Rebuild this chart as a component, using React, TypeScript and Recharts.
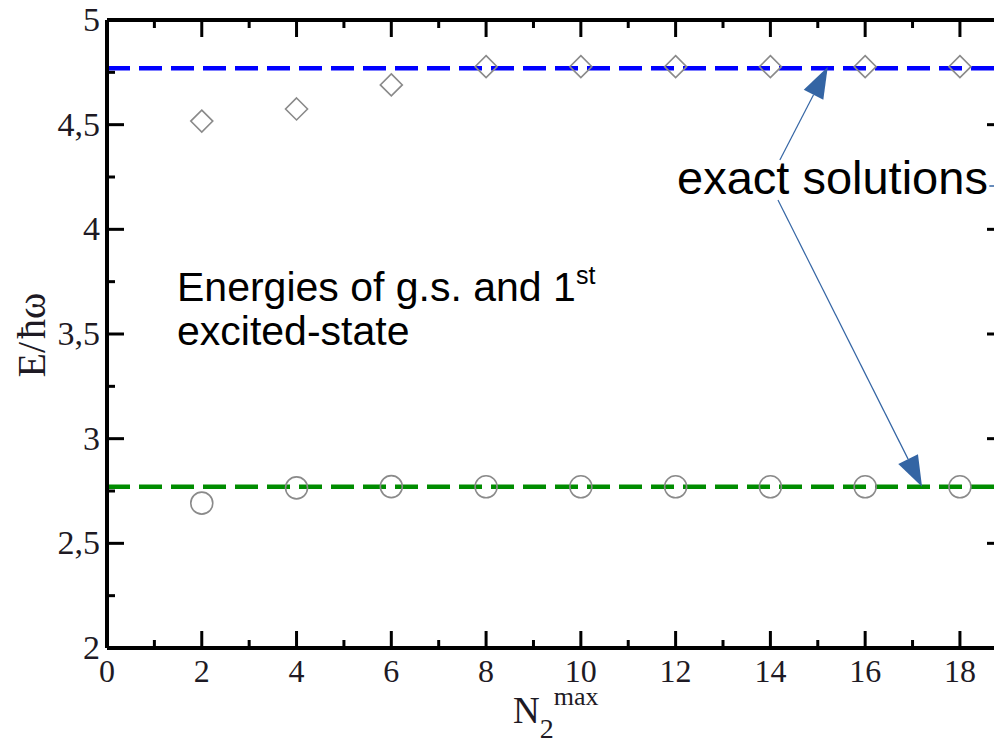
import React from "react";
import { ComposedChart, Scatter, XAxis, YAxis, ReferenceLine } from "recharts";

// N2^max values where both energies were computed
const nMax = [2, 4, 6, 8, 10, 12, 14, 16, 18];
// first excited state (diamonds) and ground state (circles), E / hbar omega
const excitedState = [4.517, 4.575, 4.69, 4.777, 4.777, 4.777, 4.777, 4.777, 4.777];
const groundState = [2.692, 2.765, 2.771, 2.77, 2.77, 2.77, 2.77, 2.77, 2.77];
// exact solutions (dashed lines)
const exactExcited = 4.769;
const exactGround = 2.77;

const xTicks = [0, 1, 2, 3, 4, 5, 6, 7, 8, 9, 10, 11, 12, 13, 14, 15, 16, 17, 18];
const yTicks = [2, 2.25, 2.5, 2.75, 3, 3.25, 3.5, 3.75, 4, 4.25, 4.5, 4.75, 5];
const xDomain = [0, 18.93];
const yDomain = [2, 5];

// annotation arrows, in data coordinates
const arrowToExcited = [{ x: 14.2, y: 4.331 }, { x: 15.21, y: 4.775 }];
const arrowToGround = [{ x: 14.16, y: 4.14 }, { x: 17.2, y: 2.77 }];
const arrowOffRight = [{ x: 18.62, y: 4.207 }, { x: 18.93, y: 4.207 }];

const excitedData = nMax.map((n, i) => ({ x: n, y: excitedState[i] }));
const groundData = nMax.map((n, i) => ({ x: n, y: groundState[i] }));

// chart layout
const W = 1010;
const H = 735;
const M = { top: 12, right: 14, bottom: 0, left: 0 };
const Y_AXIS_W = 99;
const X_AXIS_H = 95;
const PLOT_W = W - M.left - M.right - Y_AXIS_W;
const PLOT_H = H - M.top - M.bottom - X_AXIS_H;

const SERIF = "'Liberation Serif', 'Times New Roman', serif";
const SANS = "'Liberation Sans', Arial, sans-serif";
const TEXT = "#1e1a24";
const ARROW = "#3465a4";

const isMajorX = (v: number) => v % 2 === 0;
const isMajorY = (v: number) => Math.abs(v * 2 - Math.round(v * 2)) < 1e-6;

// bottom tick + matching tick on the top edge of the frame
const BottomTick = (p: any) => {
  const { x, y, payload } = p;
  const v = payload.value;
  const len = isMajorX(v) ? 17 : 8;
  const top = y - PLOT_H;
  return (
    <g>
      <line x1={x} y1={y} x2={x} y2={y - len} stroke="#000" strokeWidth={3} />
      <line x1={x} y1={top} x2={x} y2={top + len} stroke="#000" strokeWidth={3} />
      {isMajorX(v) && (
        <text x={x} y={y + 34} textAnchor="middle" fontSize={32} fontFamily={SERIF} fill={TEXT}>
          {v}
        </text>
      )}
    </g>
  );
};

// left tick + matching tick on the right edge of the frame
const LeftTick = (p: any) => {
  const { x, y, payload } = p;
  const v = payload.value;
  const major = isMajorY(v);
  const len = major ? 17 : 8;
  const right = x + PLOT_W;
  return (
    <g>
      <line x1={x} y1={y} x2={x + len} y2={y} stroke="#000" strokeWidth={3} />
      <line x1={right} y1={y} x2={right - len} y2={y} stroke="#000" strokeWidth={3} />
      {major && (
        <text x={x - 7} y={y + 11} textAnchor="end" fontSize={34} fontFamily={SERIF} fill={TEXT}>
          {String(v).replace(".", ",")}
        </text>
      )}
    </g>
  );
};

const Diamond = (p: any) => {
  const { cx, cy } = p;
  const r = 11;
  return (
    <path
      d={`M${cx},${cy - r}L${cx + r},${cy}L${cx},${cy + r}L${cx - r},${cy}Z`}
      fill="none"
      stroke="#8a8a8a"
      strokeWidth={1.6}
    />
  );
};

const Ring = (p: any) => {
  const { cx, cy } = p;
  return <circle cx={cx} cy={cy} r={11} fill="none" stroke="#8a8a8a" strokeWidth={1.6} />;
};

const Arrow = (p: any) => {
  const { x1, y1, x2, y2 } = p;
  const len = Math.hypot(x2 - x1, y2 - y1);
  const ux = (x2 - x1) / len;
  const uy = (y2 - y1) / len;
  const hl = 31;
  const hw = 11;
  const bx = x2 - ux * hl;
  const by = y2 - uy * hl;
  return (
    <g>
      <line x1={x1} y1={y1} x2={bx} y2={by} stroke={ARROW} strokeWidth={1.2} />
      <polygon
        points={`${x2},${y2} ${bx - uy * hw},${by + ux * hw} ${bx + uy * hw},${by - ux * hw}`}
        fill={ARROW}
      />
    </g>
  );
};

const PlainLine = (p: any) => {
  const { x1, y1, x2, y2 } = p;
  return <line x1={x1} y1={y1} x2={x2} y2={y2} stroke={ARROW} strokeWidth={1.5} />;
};

const axisLine = { stroke: "#000", strokeWidth: 4 };

export default function App() {
  return (
    <div style={{ position: "relative", width: 994, height: H, overflow: "hidden" }}>
      <style>{`body { overflow: hidden; }`}</style>
      <ComposedChart width={W} height={H} margin={M}>
        <XAxis
          xAxisId="bottom"
          dataKey="x"
          type="number"
          domain={xDomain}
          allowDataOverflow
          ticks={xTicks}
          interval={0}
          height={X_AXIS_H}
          tickSize={0}
          tickMargin={0}
          tickLine={false}
          axisLine={axisLine}
          tick={<BottomTick />}
        />
        <YAxis
          yAxisId="left"
          dataKey="y"
          type="number"
          domain={yDomain}
          ticks={yTicks}
          interval={0}
          width={Y_AXIS_W}
          tickSize={0}
          tickMargin={0}
          tickLine={false}
          axisLine={axisLine}
          tick={<LeftTick />}
        />
        {/* top edge of the frame */}
        <ReferenceLine xAxisId="bottom" yAxisId="left" y={5} stroke="#000" strokeWidth={4} />
        <ReferenceLine
          xAxisId="bottom"
          yAxisId="left"
          y={exactExcited}
          stroke="#0000ff"
          strokeWidth={4.5}
          strokeDasharray="23 9"
        />
        <ReferenceLine
          xAxisId="bottom"
          yAxisId="left"
          y={exactGround}
          stroke="#008c00"
          strokeWidth={4.5}
          strokeDasharray="23 9"
        />
        <Scatter
          xAxisId="bottom"
          yAxisId="left"
          data={excitedData}
          dataKey="y"
          shape={<Diamond />}
          isAnimationActive={false}
        />
        <Scatter
          xAxisId="bottom"
          yAxisId="left"
          data={groundData}
          dataKey="y"
          shape={<Ring />}
          isAnimationActive={false}
        />
        <ReferenceLine xAxisId="bottom" yAxisId="left" segment={arrowToExcited} shape={Arrow} />
        <ReferenceLine xAxisId="bottom" yAxisId="left" segment={arrowToGround} shape={Arrow} />
        <ReferenceLine xAxisId="bottom" yAxisId="left" segment={arrowOffRight} shape={PlainLine} />
      </ComposedChart>
      <svg
        width={994}
        height={H}
        style={{ position: "absolute", left: 0, top: 0, pointerEvents: "none" }}
      >
        <text
          x={37}
          y={327}
          transform="rotate(-90 37 327)"
          textAnchor="middle"
          fontSize={40}
          fontFamily={SERIF}
          fill={TEXT}
        >
          E/<tspan dx={3}>ħ</tspan>ω
        </text>
        <text x={505} y={715} fontFamily={SERIF} fill={TEXT} fontSize={37}>
          N
          <tspan fontSize={28} dy={15}>2</tspan>
          <tspan fontSize={26} dy={-33}>max</tspan>
        </text>
        <text x={669} y={186} fontFamily={SANS} fontSize={47} fill="#000">
          exact solutions
        </text>
        <text x={169} y={293} fontFamily={SANS} fontSize={41} fill="#000">
          Energies of g.s. and 1<tspan fontSize={25} dy={-17}>st</tspan>
        </text>
        <text x={169} y={337} fontFamily={SANS} fontSize={41} fill="#000">
          excited-state
        </text>
      </svg>
    </div>
  );
}
